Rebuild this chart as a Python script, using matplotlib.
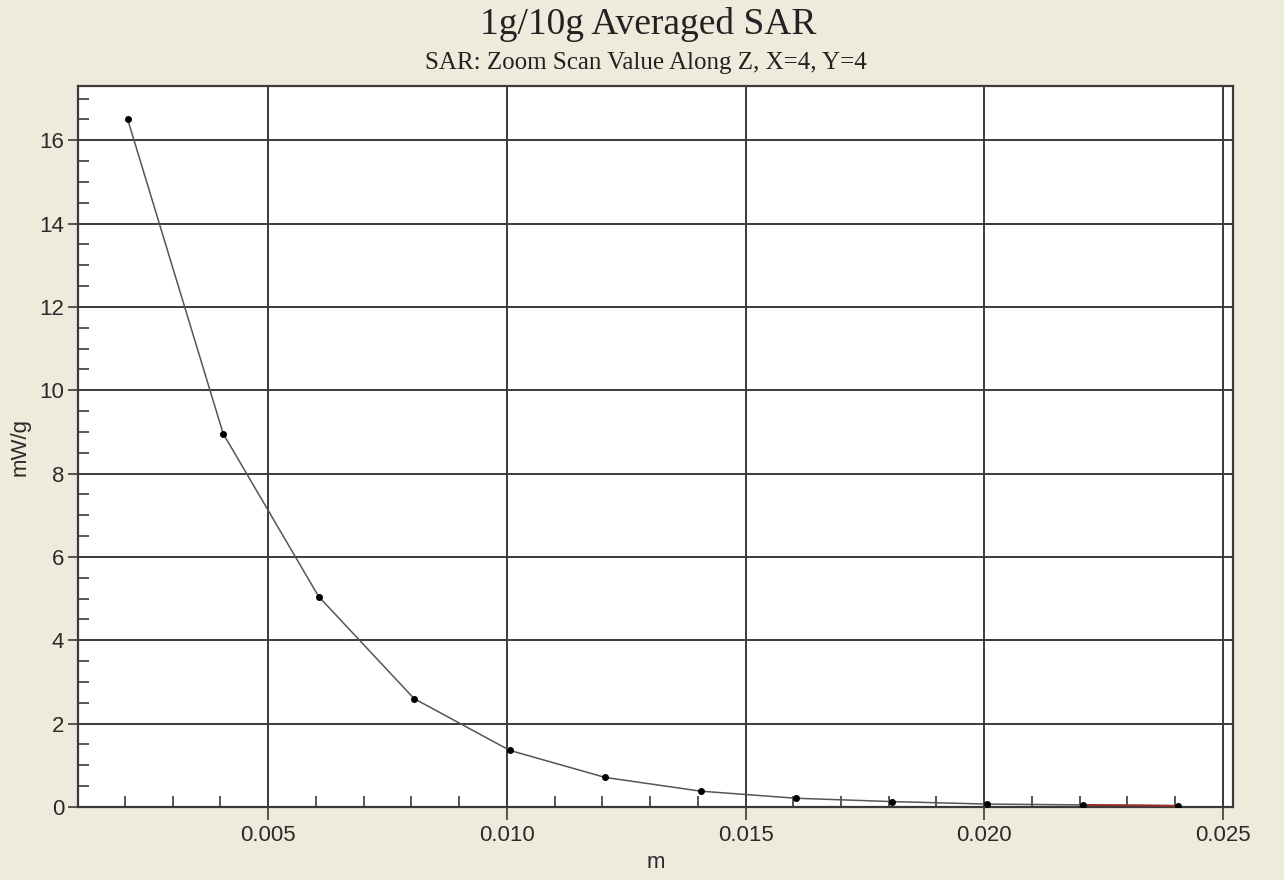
import matplotlib
matplotlib.use("Agg")
import matplotlib.pyplot as plt
from matplotlib.ticker import MultipleLocator, FixedLocator

# Data
z_m = [0.00206, 0.00406, 0.00606, 0.00806, 0.01006, 0.01206,
       0.01406, 0.01606, 0.01806, 0.02006, 0.02206, 0.02406]
sar = [16.50, 8.96, 5.05, 2.60, 1.36, 0.71,
       0.38, 0.21, 0.13, 0.07, 0.05, 0.03]

x_major = [0.005, 0.010, 0.015, 0.020, 0.025]
x_labels = ["0.005", "0.010", "0.015", "0.020", "0.025"]
y_major = [0, 2, 4, 6, 8, 10, 12, 14, 16]

title = "1g/10g Averaged SAR"
subtitle = "SAR: Zoom Scan Value Along Z, X=4, Y=4"

bg = "#EEEBDC"
grid_c = "#3a3a3a"

fig = plt.figure(figsize=(12.84, 8.80), dpi=100, facecolor=bg)
ax = fig.add_axes([78/1284, 1-807/880, (1233-78)/1284, (807-86)/880])
ax.set_facecolor("white")

ax.set_xlim(0.00102, 0.02521)
ax.set_ylim(0, 17.3)

# grid
for xv in x_major:
    ax.axvline(xv, color=grid_c, lw=1.4, zorder=1)
for yv in y_major[1:]:
    ax.axhline(yv, color=grid_c, lw=1.4, zorder=1)

# curve
ax.plot(z_m, sar, color="#555555", lw=1.1, zorder=3)
ax.plot(z_m[-2:], sar[-2:], color="#a02828", lw=1.3, zorder=3)
ax.plot(z_m, sar, linestyle="none", marker="o", ms=4, color="black", zorder=4)

# ticks
ax.xaxis.set_major_locator(FixedLocator(x_major))
ax.set_xticklabels(x_labels)
ax.xaxis.set_minor_locator(MultipleLocator(0.001))
ax.yaxis.set_major_locator(FixedLocator(y_major))
ax.yaxis.set_minor_locator(MultipleLocator(0.5))

ax.tick_params(axis="x", which="major", direction="out", length=9, width=1.2,
               color=grid_c, labelsize=16, pad=4, top=False)
ax.tick_params(axis="x", which="minor", direction="in", length=8, width=1.2,
               color=grid_c, top=False)
ax.tick_params(axis="y", which="major", direction="out", length=7, width=1.2,
               color=grid_c, labelsize=16, pad=3, right=False)
ax.tick_params(axis="y", which="minor", direction="in", length=8, width=1.2,
               color=grid_c, right=False)

for lab in ax.get_xticklabels() + ax.get_yticklabels():
    lab.set_family("Liberation Sans")
    lab.set_color("#2a2a2a")

for s in ax.spines.values():
    s.set_color(grid_c)
    s.set_linewidth(1.6)

ax.set_xlabel("m", family="Liberation Sans", fontsize=16, color="#2a2a2a", labelpad=4)
ax.set_ylabel("mW/g", family="Liberation Sans", fontsize=16, color="#2a2a2a", labelpad=6)

fig.text(648/1284, 1-24/880, title, family="Liberation Serif", fontsize=27,
         ha="center", va="center", color="#222222")
fig.text(646/1284, 1-63/880, subtitle, family="Liberation Serif", fontsize=18,
         ha="center", va="center", color="#222222")

fig.savefig("out.png", dpi=100, facecolor=bg)
